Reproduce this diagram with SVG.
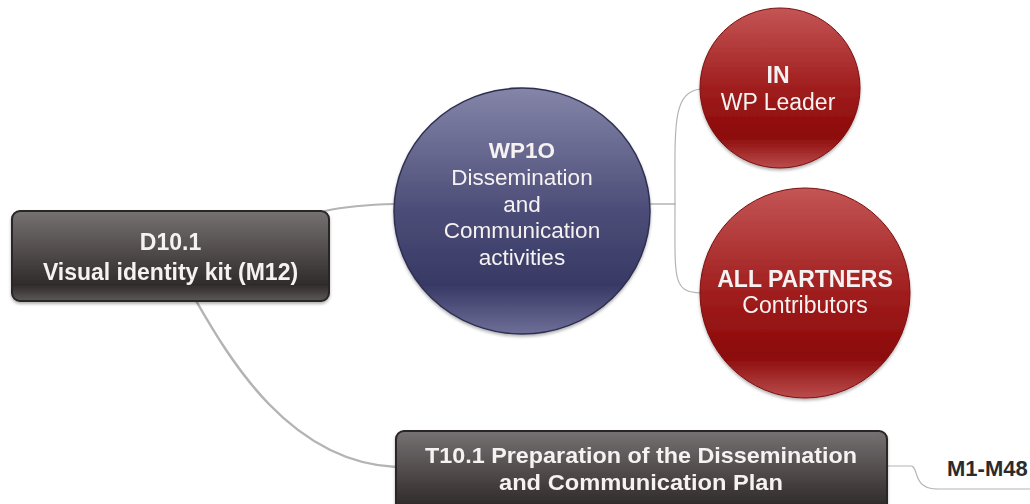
<svg xmlns="http://www.w3.org/2000/svg" width="1030" height="504" viewBox="0 0 1030 504">
<style>
.t{font-family:"Liberation Sans",Arial,sans-serif;fill:#f6f2f2;text-anchor:middle}
.b{font-weight:bold}
.conn{fill:none;stroke:#b4b4b4;stroke-linecap:round}
.box{stroke:#2a2626;stroke-width:2}
</style>
<defs>
<linearGradient id="gBox" x1="0" y1="0" x2="0" y2="1">
<stop offset="0" stop-color="#767172"/>
<stop offset="0.5" stop-color="#4c4747"/>
<stop offset="0.82" stop-color="#2f2b2b"/>
<stop offset="1" stop-color="#5e5858"/>
</linearGradient>
<linearGradient id="gBlue" x1="0" y1="0" x2="0" y2="1">
<stop offset="0" stop-color="#8485a8"/>
<stop offset="0.5" stop-color="#4c4d78"/>
<stop offset="0.8" stop-color="#383965"/>
<stop offset="1" stop-color="#6e6f98"/>
</linearGradient>
<linearGradient id="gRed" x1="0" y1="0" x2="0" y2="1">
<stop offset="0" stop-color="#c45555"/>
<stop offset="0.5" stop-color="#a01e1e"/>
<stop offset="0.8" stop-color="#8c0909"/>
<stop offset="1" stop-color="#bb4d4d"/>
</linearGradient>
<filter id="sh" x="-10%" y="-10%" width="120%" height="130%">
<feDropShadow dx="0" dy="2" stdDeviation="1.5" flood-color="#000" flood-opacity="0.3"/>
</filter>
</defs>
<g id="connectors">
<path class="conn" stroke-width="2" d="M325 211 Q352 205 395 204"/>
<path class="conn" stroke-width="2.5" d="M195 299 C230 360 290 462 396 467"/>
<path class="conn" stroke-width="1.5" d="M650 204 L675 204"/>
<path class="conn" stroke-width="1.2" d="M675 204 C675 125 672 92 701 89"/>
<path class="conn" stroke-width="1.2" d="M675 204 C675 280 672 292 701 293"/>
<path class="conn" stroke-width="1.2" d="M887 466 L911 466 C917 466 915 480 923 485 C928 489 934 489 942 489 L1030 489"/>
</g>
<g id="n-d101" filter="url(#sh)">
<rect class="box" x="12" y="211" width="317" height="90" rx="8" fill="url(#gBox)"/>
<text class="t b" x="170.5" y="250" font-size="23">D10.1</text>
<text class="t b" x="170.5" y="280" font-size="23">Visual identity kit (M12)</text>
</g>
<g id="n-wp10" filter="url(#sh)">
<ellipse cx="522" cy="211" rx="128" ry="123" fill="url(#gBlue)" stroke="#2e2f52" stroke-width="1.5"/>
<text class="t b" x="522" y="158" font-size="22.5">WP1O</text>
<text class="t" x="522" y="185" font-size="22.5">Dissemination</text>
<text class="t" x="522" y="212" font-size="22.5">and</text>
<text class="t" x="522" y="238" font-size="22.5">Communication</text>
<text class="t" x="522" y="265" font-size="22.5">activities</text>
</g>
<g id="n-in" filter="url(#sh)">
<circle cx="780" cy="88" r="80" fill="url(#gRed)" stroke="#7a1010" stroke-width="1"/>
<text class="t b" x="778" y="83" font-size="23">IN</text>
<text class="t" x="778" y="110" font-size="23">WP Leader</text>
</g>
<g id="n-all" filter="url(#sh)">
<circle cx="805" cy="293" r="105" fill="url(#gRed)" stroke="#7a1010" stroke-width="1"/>
<text class="t b" x="805" y="287" font-size="23">ALL PARTNERS</text>
<text class="t" x="805" y="313" font-size="23">Contributors</text>
</g>
<g id="n-t101" filter="url(#sh)">
<rect class="box" x="396" y="431" width="491" height="90" rx="8" fill="url(#gBox)"/>
<text class="t b" x="641" y="463" font-size="22" textLength="432" lengthAdjust="spacingAndGlyphs">T10.1 Preparation of the Dissemination</text>
<text class="t b" x="641" y="490" font-size="22" textLength="284" lengthAdjust="spacingAndGlyphs">and Communication Plan</text>
</g>
<g id="n-m148">
<text class="b" x="947" y="476" font-size="22" font-family="Liberation Sans,Arial,sans-serif" fill="#2b2b2b">M1-M48</text>
</g>
</svg>
